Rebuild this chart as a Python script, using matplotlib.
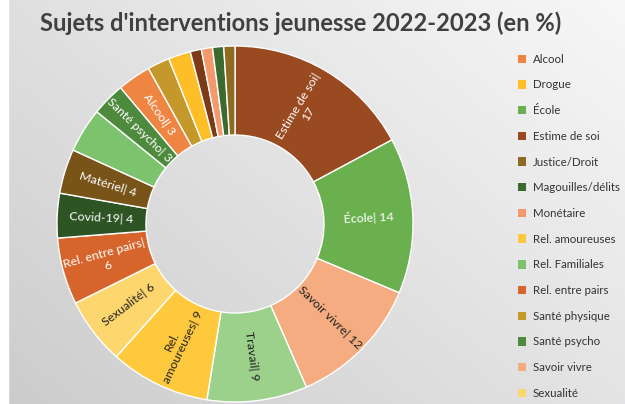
import numpy as np
import matplotlib
matplotlib.use("Agg")
import matplotlib.pyplot as plt
from matplotlib.patches import Patch

plt.rcParams['font.family'] = ['Lato', 'DejaVu Sans']

# Data (pie order, clockwise from 12 o'clock)
categories = ["Estime de soi", "École", "Savoir vivre", "Travail", "Rel. amoureuses",
              "Sexualité", "Rel. entre pairs", "Covid-19", "Matériel", "Rel. Familiales",
              "Santé psycho", "Alcool", "Santé physique", "Drogue", "Autre",
              "Monétaire", "Magouilles/délits", "Justice/Droit"]
values = [17, 14, 12, 9, 9, 6, 6, 4, 4, 4, 3, 3, 2, 2, 1, 1, 1, 1]
slice_labels = ["Estime de soi|\n17", "École| 14", "Savoir vivre| 12", "Travail| 9",
                "Rel.\namoureuses| 9", "Sexualité| 6", "Rel. entre pairs|\n6",
                "Covid-19| 4", "Matériel| 4", "", "Santé psycho| 3", "Alcool| 3",
                "", "", "", "", "", ""]
legend_items = ["Alcool", "Drogue", "École", "Estime de soi", "Justice/Droit",
                "Magouilles/délits", "Monétaire", "Rel. amoureuses", "Rel. Familiales",
                "Rel. entre pairs", "Santé physique", "Santé psycho", "Savoir vivre",
                "Sexualité"]
title = "Sujets d'interventions jeunesse 2022-2023 (en %)"

colors = {
    "Estime de soi": "#9A4A20", "École": "#6AB04F", "Savoir vivre": "#F4AC80",
    "Travail": "#9CD18B", "Rel. amoureuses": "#FEC93C", "Sexualité": "#FED66E",
    "Rel. entre pairs": "#D7652B", "Covid-19": "#2E5424", "Matériel": "#785419",
    "Rel. Familiales": "#7DC36D", "Santé psycho": "#4E8A3E", "Alcool": "#EE8542",
    "Santé physique": "#C5982B", "Drogue": "#FDBE28", "Autre": "#7D3A17",
    "Monétaire": "#F29A6C", "Magouilles/délits": "#3D6A2F", "Justice/Droit": "#8E6B20",
}
dark_text = {"Savoir vivre", "Travail", "Rel. amoureuses", "Sexualité"}

W, H = 625, 404
fig = plt.figure(figsize=(W / 100, H / 100), dpi=100)

# background gradient
bg = fig.add_axes([0, 0, 1, 1])
yy, xx = np.mgrid[0:1:200j, 0:1:300j]
grad = 0.80 + 0.17 * (0.55 * xx + 0.45 * (1 - yy))
grad = np.clip(grad, 0, 1)
img = np.dstack([grad, grad, np.clip(grad + 0.005, 0, 1)])
bg.imshow(img, extent=[0, W, 0, H], aspect='auto', origin='upper')
bg.axvspan(0, 8, color='white')
bg.set_xlim(0, W)
bg.set_ylim(0, H)
bg.axis('off')

# pie axes
cx, cy, R = 235, 404 - 224, 178
half = 200
ax = fig.add_axes([(cx - half) / W, (cy - half) / H, 2 * half / W, 2 * half / H])

wedges, _ = ax.pie(values, colors=[colors[c] for c in categories], startangle=90,
                   counterclock=False, radius=1.0,
                   wedgeprops=dict(width=0.5, edgecolor='white', linewidth=1.0))
ax.set_aspect('auto')
ax.set_xlim(-half / R, half / R)
ax.set_ylim(-half / R, half / R)
ax.axis('off')

total = sum(values)
cum = 0
for name, v, lab in zip(categories, values, slice_labels):
    mid = (cum + v / 2) / total * 360
    cum += v
    if not lab:
        continue
    theta = 90 - mid  # math angle
    r = 0.75
    x = r * np.cos(np.radians(theta))
    y = r * np.sin(np.radians(theta))
    rot = ((theta + 180) % 360) - 180
    if rot > 90 or rot < -90:
        rot += 180
    rot = ((rot + 180) % 360) - 180
    ax.text(x, y, lab, rotation=rot, rotation_mode='anchor', ha='center', va='center',
            fontsize=8.9, color='#222222' if name in dark_text else 'white',
            linespacing=1.2, multialignment='center')

# title
fig.text(40 / W, 1 - 23 / H, title, fontsize=17.1, fontweight='bold', color='#404040',
         ha='left', va='center')

# legend
phandles = [Patch(facecolor=colors[n], edgecolor='none') for n in legend_items]
leg = fig.legend(phandles, legend_items, loc='upper left',
                 bbox_to_anchor=(512 / W, 1 - 48 / H), frameon=False,
                 fontsize=8.3, handlelength=0.75, handleheight=0.75,
                 handletextpad=0.55, labelspacing=1.275, borderpad=0)
for t in leg.get_texts():
    t.set_color('#333333')

fig.savefig("out.png", dpi=100)
